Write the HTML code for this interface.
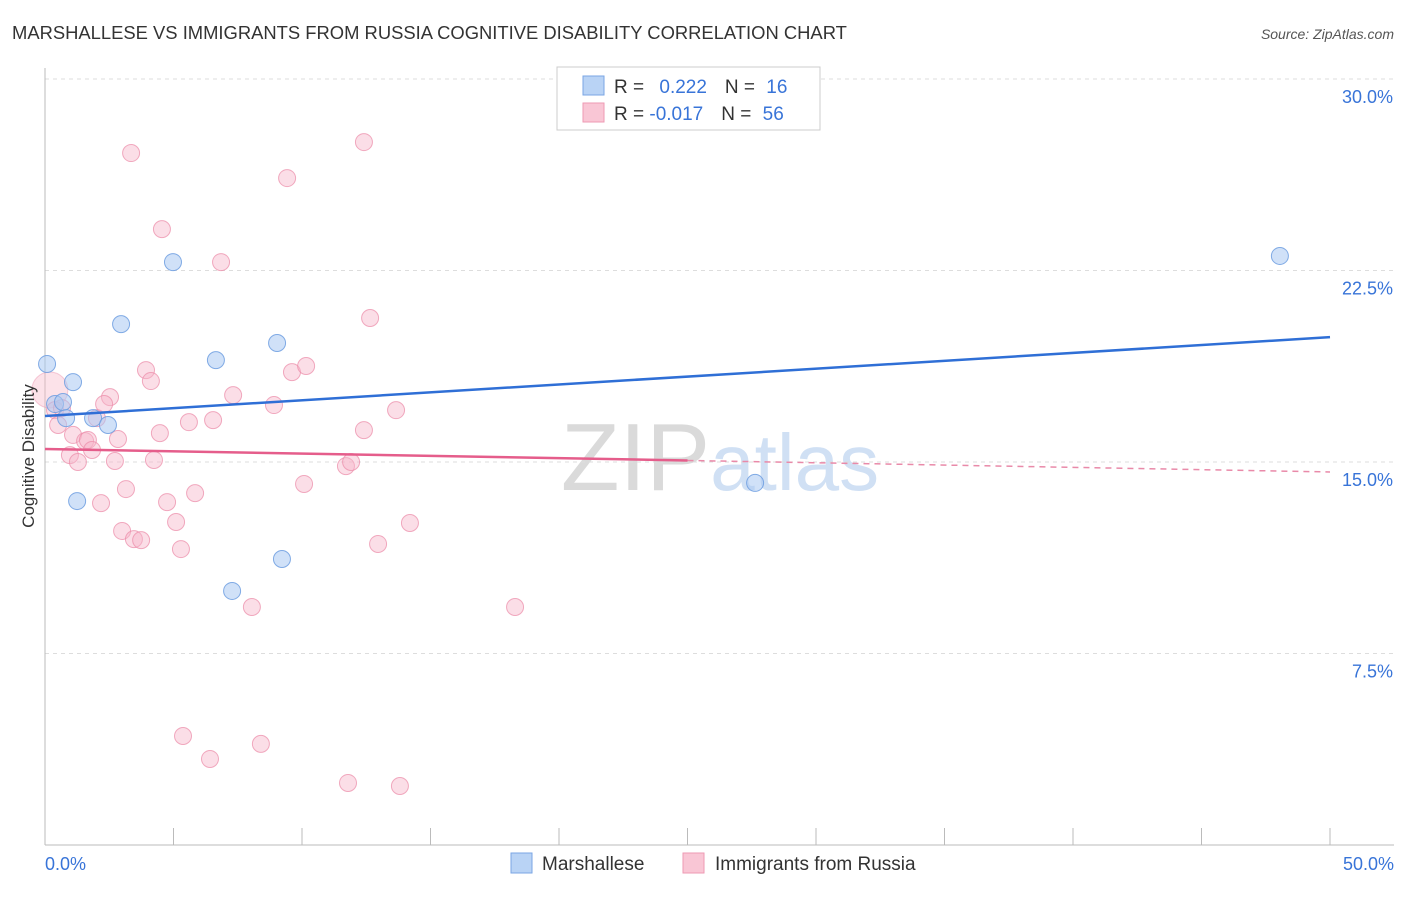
<!DOCTYPE html>
<html><head><meta charset="utf-8"><style>
body{margin:0;background:#fff;font-family:"Liberation Sans",sans-serif;}
svg text{font-family:"Liberation Sans",sans-serif;}
</style></head><body>
<svg id="c" width="1406" height="892">
<text x="12" y="39" font-size="18.4" fill="#333">MARSHALLESE VS IMMIGRANTS FROM RUSSIA COGNITIVE DISABILITY CORRELATION CHART</text>
<text x="1394" y="39" font-size="14" fill="#555" text-anchor="end" font-style="italic">Source: ZipAtlas.com</text>
<text x="720" y="490" font-size="96" fill="#ddd" text-anchor="middle" font-family="Liberation Serif"><tspan fill="#dadada">ZIP</tspan><tspan fill="#d0e0f4" font-family="Liberation Sans" font-size="80">atlas</tspan></text>
<g id="grid"></g>
<g id="pts"></g>
<g id="lines"></g>
<text transform="translate(34,456) rotate(-90)" font-size="17" fill="#333" text-anchor="middle">Cognitive Disability</text>
<g>
<rect x="557" y="67" width="263" height="63" fill="#fff" stroke="#ccc"/>
<rect x="583" y="76" width="21" height="19" fill="#b9d3f5" stroke="#7aa6e4"/>
<rect x="583" y="103" width="21" height="19" fill="#f9c6d5" stroke="#ee9ab3"/>
<text x="614" y="93" font-size="19" fill="#333">R = <tspan fill="#3874d8" dx="10">0.222</tspan><tspan fill="#333" dx="18">N = </tspan><tspan fill="#3874d8" dx="6">16</tspan></text>
<text x="614" y="120" font-size="19" fill="#333">R = <tspan fill="#3874d8">-0.017</tspan><tspan fill="#333" dx="18">N = </tspan><tspan fill="#3874d8" dx="6">56</tspan></text>
</g>
<g>
<rect x="511" y="853" width="21" height="20" fill="#b9d3f5" stroke="#7aa6e4"/>
<text x="542" y="870" font-size="19" fill="#333">Marshallese</text>
<rect x="683" y="853" width="21" height="20" fill="#f9c6d5" stroke="#ee9ab3"/>
<text x="715" y="870" font-size="19" fill="#333">Immigrants from Russia</text>
</g>
</svg>
<script>
const yTicks=[7.5,15,22.5,30];
const yTickLabels=["7.5%","15.0%","22.5%","30.0%"];
const xTickLabels=["0.0%","50.0%"];
const blueX=[0.08,1.09,0.39,0.70,0.82,1.87,2.45,1.25,2.96,4.98,6.65,9.03,7.28,9.22,27.63,48.05];
const blueY=[18.84,18.13,17.27,17.35,16.72,16.72,16.45,13.47,20.40,22.83,18.99,19.66,9.95,11.20,14.18,23.07];
const pinkX=[0.39,0.66,0.51,1.09,0.97,1.28,1.56,1.67,1.83,2.02,2.53,2.30,2.72,2.84,2.18,3.15,3.00,3.46,3.74,3.93,4.12,4.24,4.47,4.75,5.10,5.29,5.60,5.84,6.54,7.32,8.91,10.08,9.61,10.16,11.71,11.91,12.41,12.96,13.66,14.20,12.65,3.35,4.55,6.85,9.42,12.41,8.05,18.29,5.37,6.42,8.40,11.79,13.81];
const pinkY=[17.03,17.11,16.45,16.06,15.27,15.00,15.82,15.86,15.47,16.72,17.54,17.27,15.04,15.90,13.39,13.94,12.30,11.98,11.94,18.60,18.17,15.08,16.13,13.43,12.65,11.59,16.56,13.78,16.64,17.62,17.23,14.14,18.52,18.76,14.84,15.00,16.25,11.79,17.03,12.61,20.64,27.10,24.12,22.83,26.12,27.53,9.32,9.32,4.27,3.37,3.96,2.43,2.31];
const blueLine=[16.80,19.89];
const pinkLine=[15.51,14.61];
const X=v=>45+v/50*1285, Y=v=>845-v/30*766;
const NS="http://www.w3.org/2000/svg";
function mk(t,a,p){const e=document.createElementNS(NS,t);for(const k in a)e.setAttribute(k,a[k]);p.appendChild(e);return e;}
const g=document.getElementById('grid');
yTicks.forEach((t,i)=>{
 const l=mk('line',{x1:45,x2:1394,y1:Y(t),y2:Y(t),stroke:'#ddd','stroke-dasharray':'4,4'},g);
 
 
 const tx=mk('text',{x:1393,y:Y(t)+24,'font-size':18,fill:'#3874d8','text-anchor':'end'},g);
 tx.textContent=yTickLabels[i];
 
 
});
const ax=mk('line',{x1:45,x2:1394,y1:845,y2:845,stroke:'#bbb'},g);


const ay=mk('line',{x1:45,x2:45,y1:68,y2:845,stroke:'#bbb'},g);


for(let i=1;i<=10;i++){const t=mk('line',{x1:X(i*5),x2:X(i*5),y1:828,y2:845,stroke:'#bbb'},g);
 
 }
[[0,'start',45],[50,'end',1394]].forEach((d,i)=>{const t=mk('text',{x:d[2],y:870,'font-size':18,fill:'#3874d8','text-anchor':d[1]},g);t.textContent=xTickLabels[i];
 
 });
const P=document.getElementById('pts');
const big=mk('circle',{cx:X(0.19),cy:Y(17.82),r:18,fill:'#f7b6c9','fill-opacity':0.4,stroke:'#ee9ab3','stroke-opacity':0.5},P);


pinkX.forEach((x,i)=>{const c=mk('circle',{cx:X(x),cy:Y(pinkY[i]),r:8.5,fill:'#f7b6c9','fill-opacity':0.45,stroke:'#ec8fab','stroke-opacity':0.75},P);
 
 });
blueX.forEach((x,i)=>{const c=mk('circle',{cx:X(x),cy:Y(blueY[i]),r:8.5,fill:'#a9c8f2','fill-opacity':0.55,stroke:'#6d9de0','stroke-opacity':0.85},P);
 
 });
const L=document.getElementById('lines');
const bl=mk('line',{x1:X(0),y1:Y(blueLine[0]),x2:X(50),y2:Y(blueLine[1]),stroke:'#2f6fd6','stroke-width':2.5},L);


const pm=pinkLine[0]+(pinkLine[1]-pinkLine[0])*0.5;
const pl=mk('line',{x1:X(0),y1:Y(pinkLine[0]),x2:X(25),y2:Y(pm),stroke:'#e55d8b','stroke-width':2.5},L);


const pd=mk('line',{x1:X(25),y1:Y(pm),x2:X(50),y2:Y(pinkLine[1]),stroke:'#e98aa9','stroke-width':1.5,'stroke-dasharray':'6,5'},L);


</script>
</body></html>
